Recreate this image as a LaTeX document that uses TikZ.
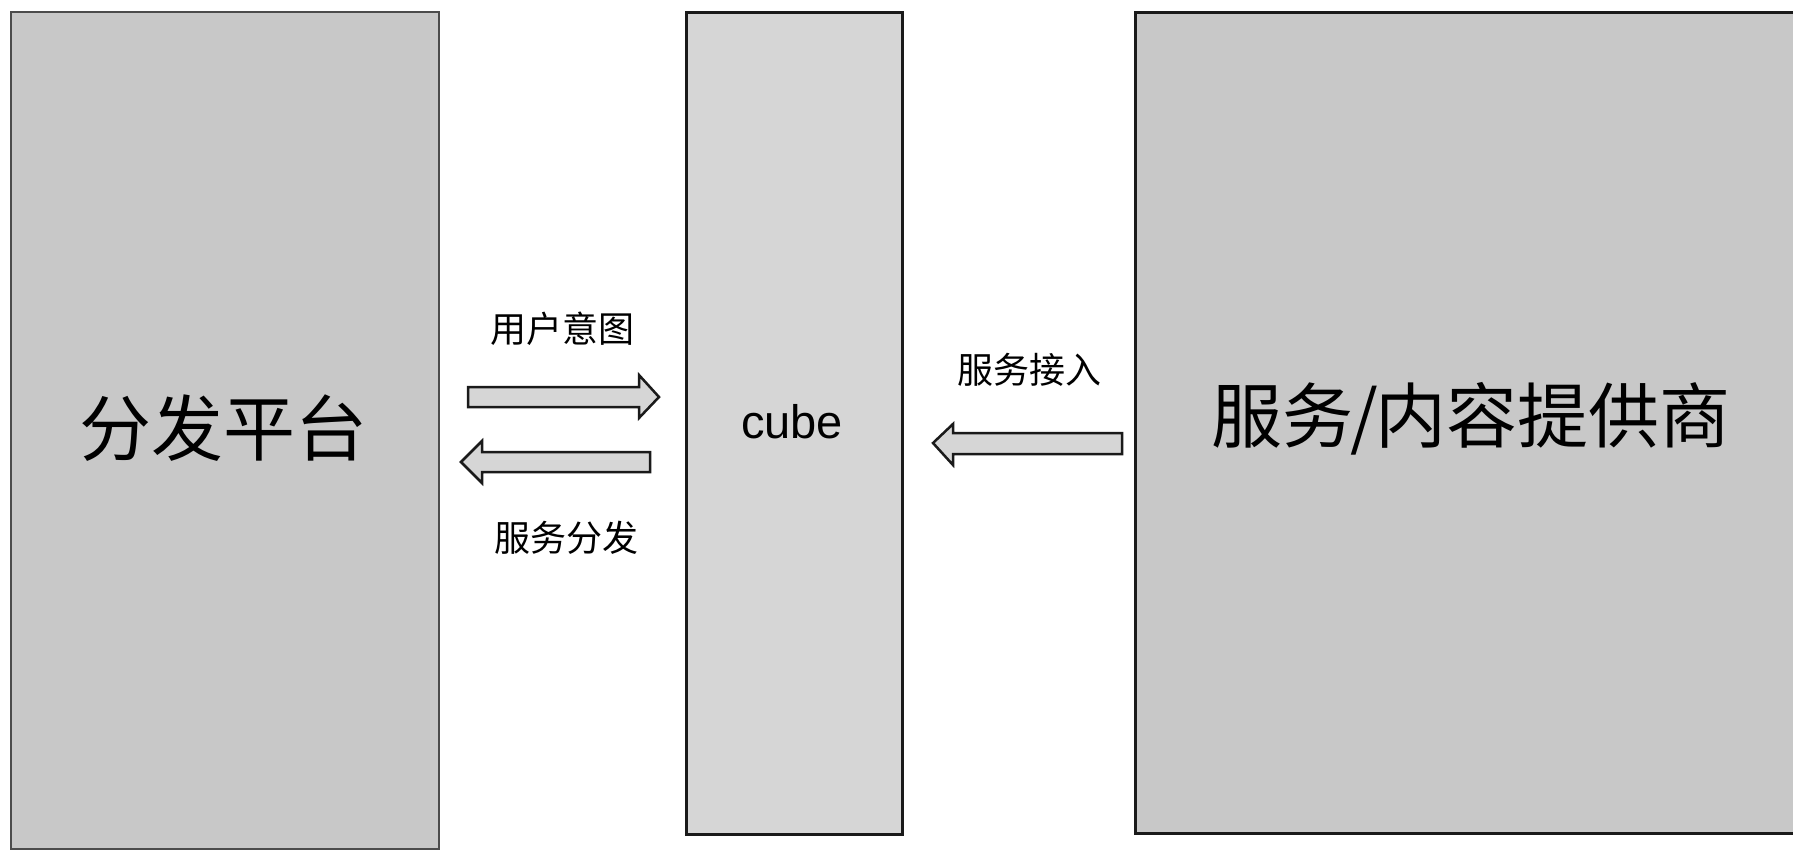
\documentclass[tikz,border=0pt]{standalone}
\usepackage{fontspec}
\setmainfont{Liberation Sans}
\newfontfamily\cjk{Noto Sans CJK SC}
\definecolor{darkbox}{HTML}{C8C8C8}
\definecolor{lightbox}{HTML}{D6D6D6}
\definecolor{edge}{HTML}{1A1A1A}
\tikzset{
  panel/.style={draw=edge, line width=2.5pt, anchor=north west, inner sep=0pt},
  blockarrow/.style={draw=edge, fill=lightbox, line width=2.5pt, line join=miter},
  bigtext/.style={font=\cjk\fontsize{72}{80}\selectfont, inner sep=0pt},
  smalltext/.style={font=\cjk\fontsize{36}{40}\selectfont, inner sep=0pt},
}
\begin{document}
\begin{tikzpicture}[x=1pt,y=-1pt]
\clip (0,0) rectangle (1793,849);
\fill[white] (0,0) rectangle (1793,849);
% panels
\node (dist) [panel, fill=darkbox, line width=1.5pt, draw=black!70, minimum width=428pt, minimum height=837pt] at (10,11) {};
\node (cube) [panel, fill=lightbox, minimum width=216pt, minimum height=822pt] at (685,11) {};
\node (prov) [panel, fill=darkbox, minimum width=720pt, minimum height=821pt] at (1134,11) {};
% panel texts
\node (distlabel) [bigtext] at (223,428) {分发平台};
\node (cubelabel) [font=\fontsize{47}{50}\selectfont, inner sep=0pt] at (792,422) {cube};
\node (provlabel) [bigtext, font=\cjk\fontsize{71}{80}\selectfont] at (1471,419) {服务\kern-3pt/\kern-3pt内容提供商};
% arrows
\draw[blockarrow] (468,387) -- (639,387) -- (639,375) -- (659,397) -- (639,418) -- (639,407) -- (468,407) -- cycle;
\draw[blockarrow] (650,452) -- (482,452) -- (482,441) -- (461,462) -- (482,483) -- (482,472) -- (650,472) -- cycle;
\draw[blockarrow] (1122,433) -- (953,433) -- (953,424) -- (933,443) -- (953,465) -- (953,454) -- (1122,454) -- cycle;
% arrow labels
\node (intent) [smalltext] at (562,329) {用户意图};
\node (dispatch) [smalltext] at (566,538) {服务分发};
\node (access) [smalltext] at (1029,370) {服务接入};
\end{tikzpicture}
\end{document}
